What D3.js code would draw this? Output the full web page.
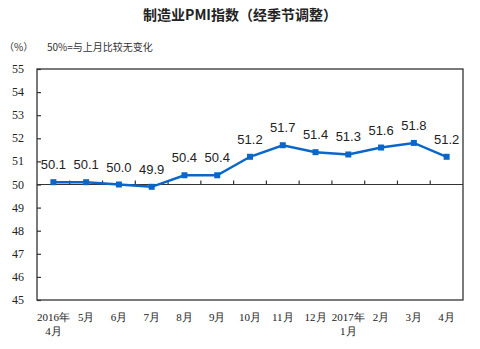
<!DOCTYPE html>
<html>
<head>
<meta charset="utf-8">
<script src="https://cdn.jsdelivr.net/npm/d3@7"></script>
<style>
  html, body { margin: 0; padding: 0; background: #fff; }
  svg { display: block; }
</style>
</head>
<body>
<svg id="chart" width="480" height="349"></svg>
<script>
// Manufacturing PMI, seasonally adjusted, Apr 2016 – Apr 2017
const months = ["2016年\n4月", "5月", "6月", "7月", "8月", "9月", "10月", "11月", "12月", "2017年\n1月", "2月", "3月", "4月"];
const pmi = [50.1, 50.1, 50.0, 49.9, 50.4, 50.4, 51.2, 51.7, 51.4, 51.3, 51.6, 51.8, 51.2];
const yTicks = [45, 46, 47, 48, 49, 50, 51, 52, 53, 54, 55];

const svg = d3.select("#chart");
const plotL = 37, plotR = 463, plotT = 69, plotB = 300;
const serif = "'Liberation Serif', 'DejaVu Serif', serif";
const cjk = "'Noto Sans CJK SC', sans-serif";

const x = d3.scaleBand().domain(months).range([plotL, plotR]);
const y = d3.scaleLinear().domain([45, 55]).range([plotB, plotT]);

// Title
svg.append("text")
  .attr("x", 240).attr("y", 20)
  .attr("text-anchor", "middle")
  .attr("font-family", cjk)
  .attr("font-size", 14)
  .attr("font-weight", "bold")
  .attr("fill", "#222")
  .text("制造业PMI指数（经季节调整）");

// Unit and note
svg.append("text")
  .attr("x", 4).attr("y", 51)
  .attr("font-family", cjk).attr("font-size", 10).attr("fill", "#333")
  .text("（%）");
svg.append("text")
  .attr("x", 47).attr("y", 51)
  .attr("font-family", cjk).attr("font-size", 10).attr("fill", "#333")
  .text("50%=与上月比较无变化");

// Plot frame
svg.append("rect")
  .attr("x", plotL).attr("y", plotT)
  .attr("width", plotR - plotL).attr("height", plotB - plotT)
  .attr("fill", "none").attr("stroke", "#333").attr("stroke-width", 1.3);

// Y axis ticks (inward) and labels
const yAxis = svg.append("g").attr("transform", `translate(${plotL},0)`)
  .call(d3.axisRight(y).tickValues(yTicks).tickSize(4).tickFormat(""));
yAxis.select(".domain").remove();
yAxis.selectAll("line").attr("stroke", "#333").attr("stroke-width", 1.2);

svg.append("g").selectAll("text").data(yTicks).join("text")
  .attr("x", 24).attr("y", d => y(d) + 4)
  .attr("text-anchor", "end")
  .attr("font-family", serif).attr("font-size", 12).attr("fill", "#222")
  .text(d => d);

// 50 baseline with category boundary ticks pointing up
svg.append("line")
  .attr("x1", plotL).attr("x2", plotR)
  .attr("y1", y(50)).attr("y2", y(50))
  .attr("stroke", "#333").attr("stroke-width", 1.2);

svg.append("g").selectAll("line").data(months.slice(1)).join("line")
  .attr("x1", d => x(d)).attr("x2", d => x(d))
  .attr("y1", y(50)).attr("y2", y(50) - 4)
  .attr("stroke", "#333").attr("stroke-width", 1.2);

// X category labels (two lines where needed)
const xl = svg.append("g").selectAll("text").data(months).join("text")
  .attr("text-anchor", "middle")
  .attr("font-family", serif).attr("font-size", 11).attr("fill", "#222")
  .attr("x", d => x(d) + x.bandwidth() / 2)
  .attr("y", 321);
xl.selectAll("tspan").data(d => d.split("\n").map(s => ({ s, d }))).join("tspan")
  .attr("x", o => x(o.d) + x.bandwidth() / 2)
  .attr("dy", (o, i) => i === 0 ? 0 : 14)
  .text(o => o.s);

// Data line
const cx = (d, i) => x(months[i]) + x.bandwidth() / 2;
svg.append("path")
  .datum(pmi)
  .attr("fill", "none")
  .attr("stroke", "#0a66c8")
  .attr("stroke-width", 2.5)
  .attr("d", d3.line().x(cx).y(d => y(d)));

svg.append("g").selectAll("rect").data(pmi).join("rect")
  .attr("x", (d, i) => cx(d, i) - 3)
  .attr("y", d => y(d) - 3)
  .attr("width", 6).attr("height", 6)
  .attr("fill", "#0a66c8");

// Value labels
svg.append("g").selectAll("text").data(pmi).join("text")
  .attr("x", (d, i) => cx(d, i))
  .attr("y", d => y(d) - 13)
  .attr("text-anchor", "middle")
  .attr("font-family", "'Liberation Sans', Arial, sans-serif")
  .attr("font-size", 13).attr("fill", "#222")
  .text(d => d.toFixed(1));
</script>
</body>
</html>
